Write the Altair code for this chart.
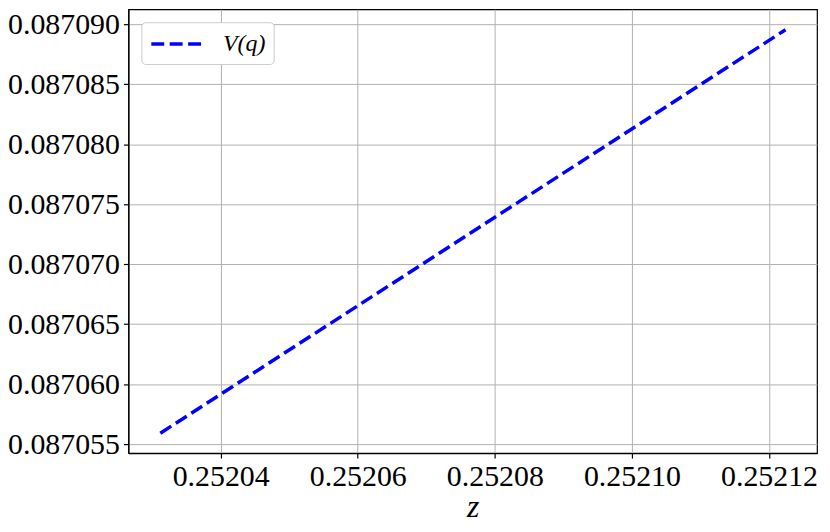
import altair as alt
import pandas as pd

z_vals = [0.2520312, 0.2521224]
v_vals = [0.08705591, 0.08708953]
series = ["V(q)", "V(q)"]
x_ticks = [0.25204, 0.25206, 0.25208, 0.25210, 0.25212]
y_ticks = [0.087055, 0.087060, 0.087065, 0.087070, 0.087075, 0.087080, 0.087085, 0.087090]

df = pd.DataFrame({"z": z_vals, "v": v_vals, "s": series})

FONT = "Liberation Serif"
axis_common = dict(labelFont=FONT, labelFontSize=30, labelColor="black",
                   domainColor="black", domainWidth=1.2,
                   tickColor="black", tickSize=5, tickWidth=1.2, labelPadding=4,
                   grid=True, gridColor="#b0b0b0", gridWidth=1)

chart = alt.Chart(df).mark_line(strokeWidth=3.5, strokeDash=[13, 5.5]).encode(
    x=alt.X("z:Q", scale=alt.Scale(domain=[0.25202654, 0.2521270], nice=False, zero=False),
            axis=alt.Axis(values=x_ticks, format=".5f", title="z", titleFontStyle="italic",
                          titleFontWeight="normal", titleFont=FONT, titleFontSize=32,
                          titlePadding=0, titleColor="black", **axis_common)),
    y=alt.Y("v:Q", scale=alt.Scale(domain=[0.08705425, 0.08709124], nice=False, zero=False),
            axis=alt.Axis(values=y_ticks, format=".6f", title=None, **axis_common)),
    color=alt.Color("s:N", scale=alt.Scale(range=["#0000ff"]),
                    legend=alt.Legend(title=None, orient="top-left", offset=13,
                                      symbolType="M-1,0L3.25,0", symbolStrokeWidth=3.5,
                                      symbolFillColor="transparent",
                                      symbolDash=[13, 5.5], symbolSize=576,
                                      labelFont=FONT, labelFontSize=24, labelFontStyle="italic",
                                      labelColor="black",
                                      padding=8, strokeColor="#cccccc", fillColor="white",
                                      cornerRadius=4, labelOffset=46)),
).properties(
    width=692, height=446,
    autosize=alt.AutoSizeParams(type="none"),
    padding={"left": 121, "top": 0, "right": 5, "bottom": 70},
).configure(background="white").configure_view(stroke="black", strokeWidth=1.2)

chart.save("out.html", embed_options={"renderer": "svg", "actions": False})
